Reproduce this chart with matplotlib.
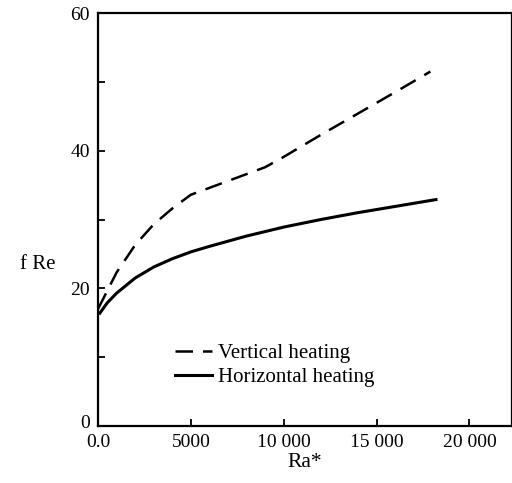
import matplotlib

matplotlib.use("Agg")
import matplotlib.pyplot as plt
from matplotlib.transforms import ScaledTranslation

# Ra* vs f Re
ra_vertical = [0, 1000, 2000, 3000, 4000, 5000, 6000, 7000, 8000, 9000, 10000, 12000, 14000, 16000, 17900]
fre_vertical = [17.0, 22.3, 26.3, 29.3, 31.6, 33.6, 34.6, 35.6, 36.6, 37.6, 39.1, 42.3, 45.4, 48.5, 51.5]

ra_horizontal = [100, 500, 1000, 2000, 3000, 4000, 5000, 6000, 8000, 10000, 12000, 14000, 16000, 18200]
fre_horizontal = [16.4, 17.9, 19.3, 21.5, 23.1, 24.3, 25.3, 26.1, 27.6, 28.9, 30.0, 31.0, 31.9, 32.9]

x_ticks = [0, 5000, 10000, 15000, 20000]
x_ticklabels = ["0.0", "5000", "10 000", "15 000", "20 000"]
y_ticks = [0, 10, 20, 30, 40, 50, 60]
y_ticklabels = ["0", "", "20", "", "40", "", "60"]

plt.rcParams["font.family"] = ["Liberation Serif", "DejaVu Serif"]

fig = plt.figure(figsize=(5.12, 4.83), dpi=100)
ax = fig.add_axes([0.1914, 0.118, 0.807, 0.855])

ax.plot(ra_vertical, fre_vertical, color="black", lw=1.8, dashes=(7, 4),
        label="Vertical heating")
ax.plot(ra_horizontal, fre_horizontal, color="black", lw=2.2,
        label="Horizontal heating")

ax.set_xlim(0, 22250)
ax.set_ylim(0, 60)
ax.set_xticks(x_ticks)
ax.set_xticklabels(x_ticklabels)
ax.set_yticks(y_ticks)
ax.set_yticklabels(y_ticklabels)
ax.tick_params(direction="in", length=5, width=1.3, labelsize=14, colors="black")
ax.tick_params(axis="y", pad=6)
ax.tick_params(axis="x", pad=5.5)
# nudge the "0" up a touch so it clears the "0.0" below it
lab0 = ax.get_yticklabels()[0]
lab0.set_transform(lab0.get_transform() + ScaledTranslation(0, 3 / 72, fig.dpi_scale_trans))
for side in ["left", "bottom", "top"]:
    ax.spines[side].set_linewidth(1.6)
ax.spines["right"].set_linewidth(0.9)

ax.set_xlabel("Ra*", fontsize=15.5, labelpad=2)
fig.text(0.074, 0.453, "f Re", fontsize=15, ha="center", va="center")

ax.legend(loc="lower left", bbox_to_anchor=(0.15, 0.059), frameon=False, fontsize=15,
          handlelength=1.8, handletextpad=0.3, labelspacing=0.2, borderpad=0.2)

fig.savefig("out.png", dpi=100)
